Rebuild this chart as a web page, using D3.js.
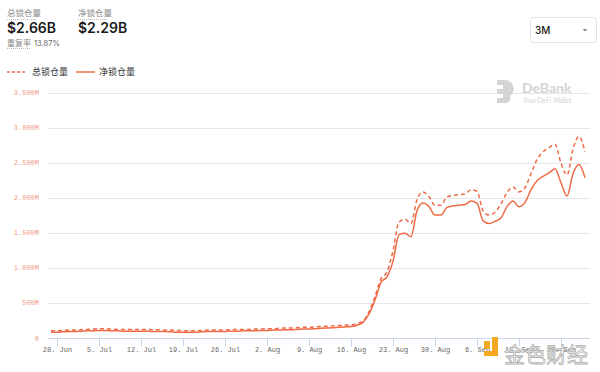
<!DOCTYPE html>
<meta charset="utf-8">
<style>
body { margin: 0; background: #fff; }
svg text { font-family: "Noto Sans CJK SC", "Noto Sans", sans-serif; }
.tick-x, .tick-y { font-family: "Liberation Mono", monospace !important; font-size: 7px; }
</style>
<svg width="600" height="372"></svg>
<script src="https://cdn.jsdelivr.net/npm/d3@7"></script>
<script>

// daily values from 27 Jun to 24 Sep, in billions
var startDay = "2021-06-27";

var totalLocked = [
  0.11, 0.11, 0.115, 0.12, 0.12, 0.125, 0.13, 0.135, 0.14, 0.14,
  0.135, 0.13, 0.13, 0.13, 0.13, 0.13, 0.13, 0.125, 0.125, 0.12,
  0.12, 0.115, 0.11, 0.11, 0.11, 0.115, 0.12, 0.12, 0.12, 0.125,
  0.125, 0.13, 0.13, 0.13, 0.135, 0.135, 0.14, 0.14, 0.145, 0.15,
  0.15, 0.155, 0.16, 0.16, 0.165, 0.17, 0.175, 0.18, 0.185, 0.19,
  0.195, 0.21, 0.25, 0.38, 0.6, 0.85, 0.95, 1.25, 1.66, 1.7,
  1.64, 1.98, 2.09, 2.02, 1.9, 1.9, 2.02, 2.04, 2.05, 2.06,
  2.12, 2.1, 1.82, 1.76, 1.8, 1.92, 2.08, 2.16, 2.09, 2.15,
  2.35, 2.55, 2.66, 2.72, 2.77, 2.5, 2.33, 2.7, 2.88, 2.66
];

var netLocked = [
  0.09, 0.09, 0.095, 0.1, 0.1, 0.105, 0.11, 0.11, 0.115, 0.115,
  0.11, 0.11, 0.105, 0.105, 0.105, 0.105, 0.105, 0.1, 0.1, 0.1,
  0.095, 0.09, 0.09, 0.09, 0.09, 0.095, 0.1, 0.1, 0.1, 0.1,
  0.105, 0.105, 0.11, 0.11, 0.11, 0.115, 0.115, 0.12, 0.12, 0.125,
  0.125, 0.13, 0.135, 0.135, 0.14, 0.145, 0.15, 0.155, 0.16, 0.165,
  0.17, 0.19, 0.23, 0.35, 0.55, 0.8, 0.88, 1.1, 1.48, 1.5,
  1.45, 1.82, 1.93, 1.88, 1.76, 1.76, 1.87, 1.89, 1.9, 1.91,
  1.96, 1.93, 1.68, 1.64, 1.67, 1.72, 1.88, 1.96, 1.88, 1.94,
  2.12, 2.25, 2.31, 2.36, 2.42, 2.22, 2.03, 2.35, 2.48, 2.29
];

var yTicks = [0, 0.5, 1, 1.5, 2, 2.5, 3, 3.5];
var yTickLabels = ["0", "500M", "1.000M", "1.500M", "2.000M", "2.500M", "3.000M", "3.500M"];

var xTickLabels = ["28. Jun", "5. Jul", "12. Jul", "19. Jul", "26. Jul", "2. Aug", "9. Aug",
                   "16. Aug", "23. Aug", "30. Aug", "6. Sep", "13. Sep", "20. Sep"];

var seriesNames = ["总锁仓量", "净锁仓量"];

var lineColor = "#ef6a45";

var svg = d3.select("svg");
var parse = d3.timeParse("%Y-%m-%d");
var day0 = parse(startDay);
var dates = totalLocked.map(function(v, i) { return d3.timeDay.offset(day0, i); });

var x = d3.scaleTime()
    .domain([d3.timeHour.offset(day0, -12), dates[dates.length - 1]])
    .range([48, 585]);

var y = d3.scaleLinear()
    .domain([0, 3.5])
    .range([338.5, 93]);

// grid
svg.append("g")
  .selectAll("line")
  .data(yTicks.slice(1))
  .enter().append("line")
    .attr("x1", 48).attr("x2", 590)
    .attr("y1", function(d) { return Math.round(y(d)) + 0.5; })
    .attr("y2", function(d) { return Math.round(y(d)) + 0.5; })
    .attr("stroke", "#e6e6e6");

// y labels
svg.append("g")
  .selectAll("text")
  .data(yTicks)
  .enter().append("text")
    .attr("class", "tick-y")
    .attr("x", 39)
    .attr("y", function(d) { return y(d) + 2; })
    .attr("text-anchor", "end")
    .attr("fill", "#ee9a86")
    .text(function(d, i) { return yTickLabels[i]; });

// x axis
var xTicks = d3.timeMonday.range(d3.timeDay.offset(day0, 1), d3.timeDay.offset(dates[dates.length - 1], 1));
var xAxis = svg.append("g")
    .attr("transform", "translate(0,338.5)")
    .call(d3.axisBottom(x).tickValues(xTicks).tickSize(8).tickFormat(function(d, i) { return xTickLabels[i]; }));
xAxis.select(".domain").attr("stroke", "#ccd6eb").attr("d", "M48,0H590");
xAxis.selectAll(".tick line").attr("stroke", "#ccd6eb");
xAxis.selectAll(".tick text")
    .attr("class", "tick-x")
    .attr("fill", "#666")
    .attr("y", 9);

// lines
var line = d3.line()
    .x(function(d, i) { return x(dates[i]); })
    .y(function(d) { return y(d); })
    .curve(d3.curveMonotoneX);

svg.append("path")
    .datum(totalLocked)
    .attr("d", line)
    .attr("fill", "none")
    .attr("stroke", lineColor)
    .attr("stroke-width", 1.5)
    .attr("stroke-dasharray", "4,3");

svg.append("path")
    .datum(netLocked)
    .attr("d", line)
    .attr("fill", "none")
    .attr("stroke", lineColor)
    .attr("stroke-width", 1.5);

// header
var head = svg.append("g");
head.append("text").attr("x", 7).attr("y", 16).attr("font-size", 8.5).attr("fill", "#888").text(seriesNames[0]);
head.append("text").attr("x", 78).attr("y", 16).attr("font-size", 8.5).attr("fill", "#888").text(seriesNames[1]);
head.append("line").attr("x1", 7).attr("x2", 37).attr("y1", 19.5).attr("y2", 19.5)
    .attr("stroke", "#bbb").attr("stroke-dasharray", "1,1");
head.append("line").attr("x1", 78).attr("x2", 108).attr("y1", 19.5).attr("y2", 19.5)
    .attr("stroke", "#bbb").attr("stroke-dasharray", "1,1");
head.append("text").attr("x", 7).attr("y", 33).attr("font-size", 14).attr("font-weight", 600)
    .attr("fill", "#1a1a1a").style("font-family", "Inter, sans-serif").text("$" + totalLocked[totalLocked.length - 1] + "B");
head.append("text").attr("x", 78).attr("y", 33).attr("font-size", 14).attr("font-weight", 600)
    .attr("fill", "#1a1a1a").style("font-family", "Inter, sans-serif").text("$" + netLocked[netLocked.length - 1] + "B");
head.append("text").attr("x", 7).attr("y", 46).attr("font-size", 8).attr("fill", "#888").text("重复率");
head.append("line").attr("x1", 7).attr("x2", 30).attr("y1", 48.5).attr("y2", 48.5)
    .attr("stroke", "#bbb").attr("stroke-dasharray", "1,1");
head.append("text").attr("x", 34).attr("y", 46).attr("font-size", 7.5).attr("fill", "#666")
    .style("font-family", "Inter, sans-serif").text("13.87%");

// dropdown
svg.append("rect").attr("x", 530.5).attr("y", 17.5).attr("width", 66).attr("height", 25).attr("rx", 3)
    .attr("fill", "#fff").attr("stroke", "#e3e3e3");
svg.append("text").attr("x", 535).attr("y", 34).attr("font-size", 10).attr("font-weight", 500)
    .attr("fill", "#222").style("font-family", "Inter, sans-serif").text("3M");
svg.append("path").attr("d", "M582.5,29 L587.5,29 L585,31.5 Z").attr("fill", "#888");

// legend
var legend = svg.append("g");
legend.append("line").attr("x1", 7).attr("x2", 25).attr("y1", 72).attr("y2", 72)
    .attr("stroke", lineColor).attr("stroke-width", 1.5).attr("stroke-dasharray", "3,2");
legend.append("text").attr("x", 32).attr("y", 75).attr("font-size", 9).attr("fill", "#333").text(seriesNames[0]);
legend.append("line").attr("x1", 76).attr("x2", 95).attr("y1", 72).attr("y2", 72)
    .attr("stroke", lineColor).attr("stroke-width", 1.5);
legend.append("text").attr("x", 99).attr("y", 75).attr("font-size", 9).attr("fill", "#333").text(seriesNames[1]);

// DeBank watermark
var wm = svg.append("g").attr("fill", "#d4d4d4");
wm.append("path").attr("d", "M497,80 h9 a9,9 0 0 1 4,16 a5,5 0 0 1 -4,7 h-9 v-5 h6 v-4 h-6 v-5 h6 v-4 h-6 z");
wm.append("text").attr("x", 522).attr("y", 93).attr("font-size", 14).attr("font-weight", 700)
    .style("font-family", "Lato, sans-serif").text("DeBank");
wm.append("text").attr("x", 523).attr("y", 103).attr("font-size", 7).attr("font-style", "italic")
    .style("font-family", "Lato, sans-serif").text("Your DeFi Wallet");

// 金色财经 watermark
var jw = svg.append("g");
jw.append("rect").attr("x", 484).attr("y", 341).attr("width", 6).attr("height", 8).attr("fill", "#f5a623");
jw.append("path").attr("d", "M492,337 h6 v19 h-14 v-5 h8 z").attr("fill", "#f5a623");
jw.append("text").attr("x", 504).attr("y", 362).attr("font-size", 21).attr("fill", "#fff")
    .attr("stroke", "#b0b0b0").attr("stroke-width", 0.8).text("金色财经");

</script>
